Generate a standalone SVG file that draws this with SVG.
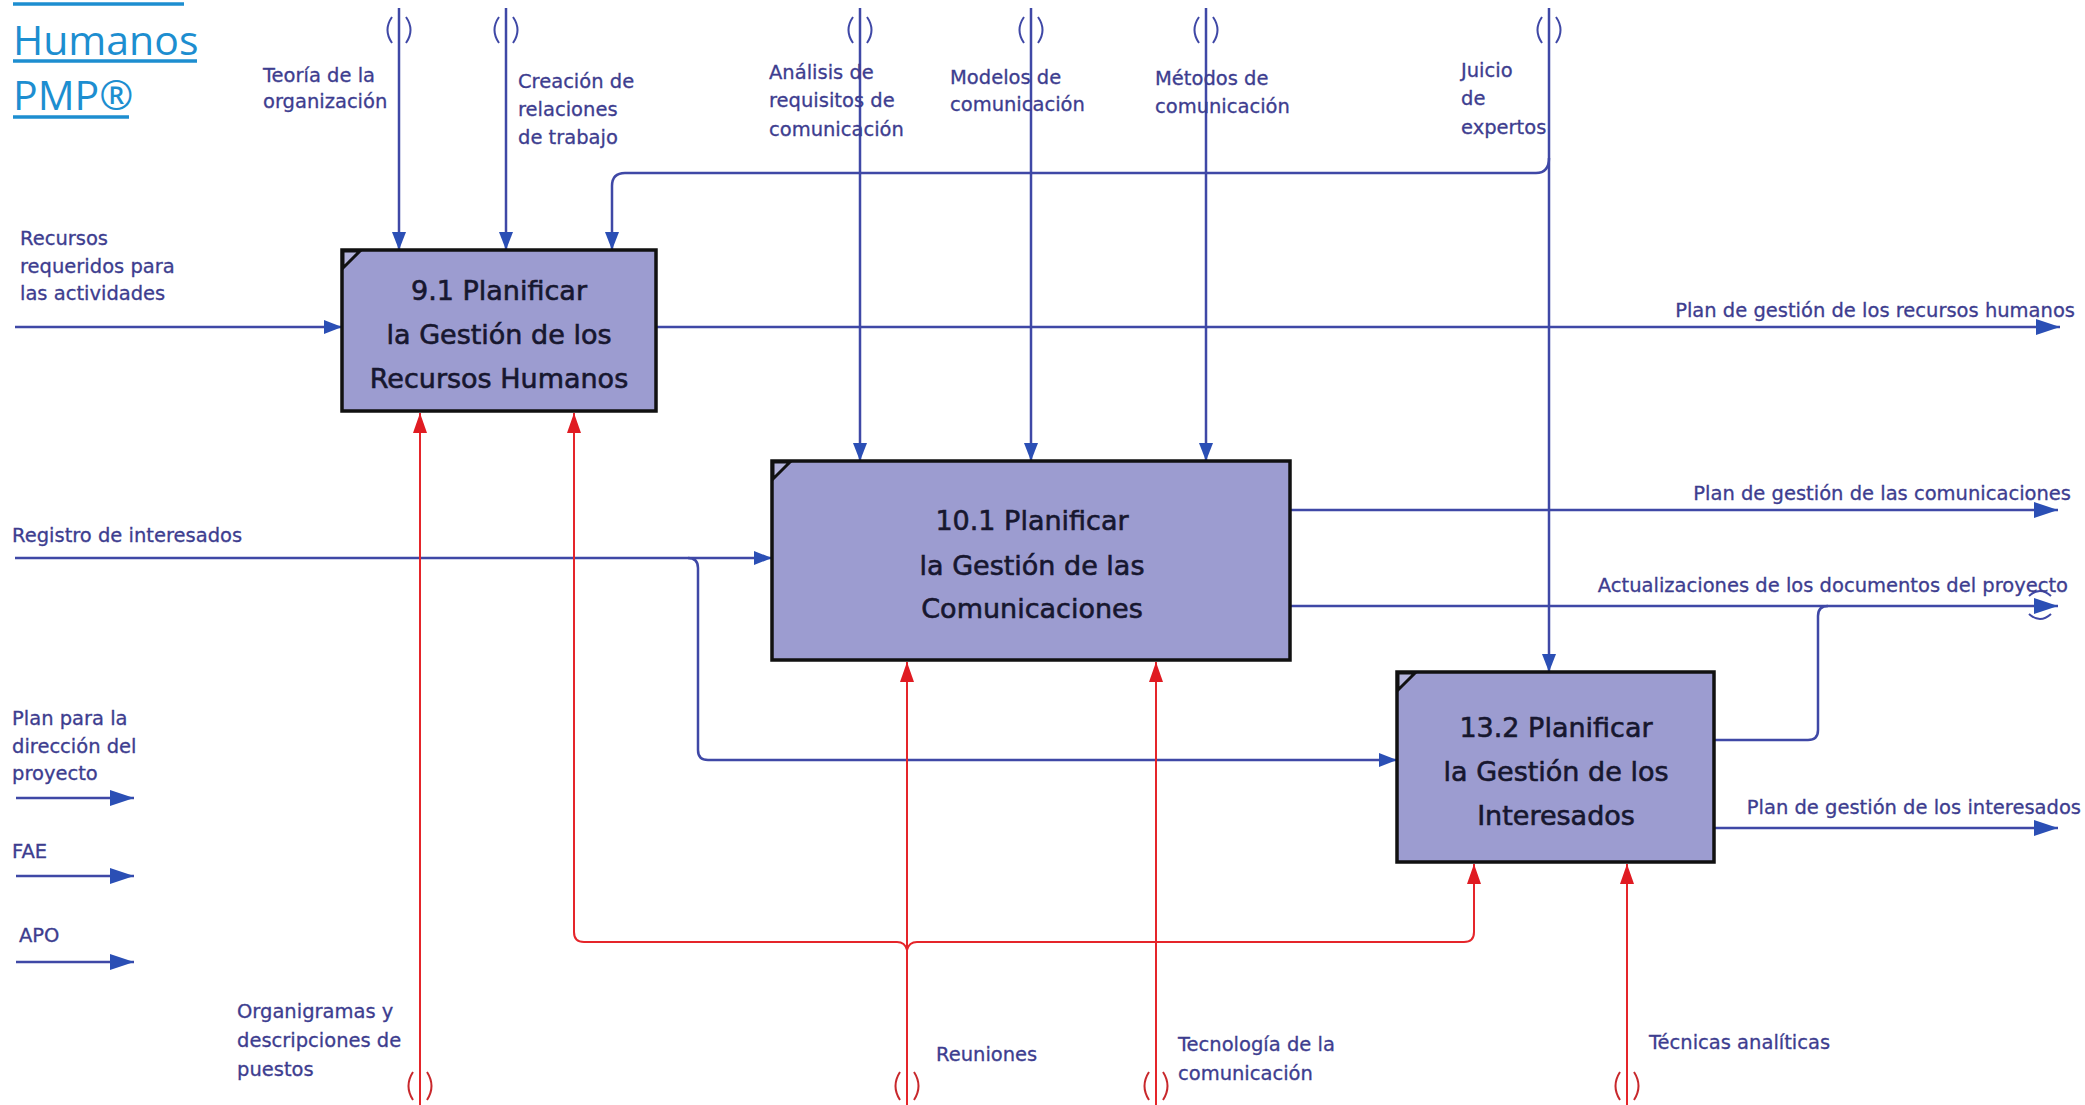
<svg xmlns="http://www.w3.org/2000/svg" width="2085" height="1105" viewBox="0 0 2085 1105">
  <style>
    .bg { fill: #ffffff; }
    .title { font-family: "Open Sans", "Noto Sans", sans-serif; font-size: 41px; fill: #1d8ed0; }
    .uline { stroke: #1d8ed0; stroke-width: 3.5; }
    .box { fill: #9c9cd0; stroke: #111111; stroke-width: 3.5; }
    .corner { stroke: #111111; stroke-width: 3; fill: #b4b4dc; }
    .btxt { font-family: "DejaVu Sans", "Liberation Sans", sans-serif; font-size: 27px; fill: #17172f; stroke: #17172f; stroke-width: 0.6; text-anchor: middle; }
    .lbl { font-family: "DejaVu Sans", "Liberation Sans", sans-serif; font-size: 19.5px; fill: #3d3d8f; stroke: #3d3d8f; stroke-width: 0.3; white-space: pre; }
    .end { text-anchor: end; }
    .blue { fill: none; stroke: #3f48a6; stroke-width: 2.5; }
    .red { fill: none; stroke: #e5252a; stroke-width: 2; }
    .tunB { fill: none; stroke: #3f48a6; stroke-width: 2; }
    .tunR { fill: none; stroke: #c8282c; stroke-width: 2; }
  </style>
  <defs>
    <marker id="arrB" markerUnits="userSpaceOnUse" markerWidth="20" markerHeight="16" refX="18" refY="7" orient="auto">
      <path d="M0,0 L18,7 L0,14 z" fill="#2b4fb5"/>
    </marker>
    <marker id="arrBL" markerUnits="userSpaceOnUse" markerWidth="26" markerHeight="18" refX="24" refY="8" orient="auto">
      <path d="M0,0 L24,8 L0,16 z" fill="#2b4fb5"/>
    </marker>
    <marker id="arrR" markerUnits="userSpaceOnUse" markerWidth="22" markerHeight="18" refX="20" refY="8" orient="auto">
      <path d="M0,1 L20,8 L0,15 z" fill="#e01b22"/>
    </marker>
  </defs>

  <rect class="bg" x="0" y="0" width="2085" height="1105"/>

  <!-- heading -->
  <g id="title">
    <line class="uline" x1="13" y1="4" x2="184" y2="4"/>
    <text class="title" x="13" y="55">Humanos</text>
    <line class="uline" x1="13" y1="61" x2="197" y2="61"/>
    <text class="title" x="13" y="110">PMP®</text>
    <line class="uline" x1="13" y1="117" x2="129" y2="117"/>
  </g>

  <!-- connectors: controls (top), inputs (left), outputs (right), mechanisms (bottom) -->
  <g id="connectors">
    <!-- controls -->
    <path class="blue" d="M399,8 V250" marker-end="url(#arrB)"/>
    <path class="blue" d="M506,8 V250" marker-end="url(#arrB)"/>
    <path class="blue" d="M860,8 V461" marker-end="url(#arrB)"/>
    <path class="blue" d="M1031,8 V461" marker-end="url(#arrB)"/>
    <path class="blue" d="M1206,8 V461" marker-end="url(#arrB)"/>
    <path class="blue" d="M1549,8 V672" marker-end="url(#arrB)"/>
    <path class="blue" d="M1549,158 Q1549,173 1536,173 H625 Q612,173 612,186 V250" marker-end="url(#arrB)"/>

    <!-- inputs -->
    <path class="blue" d="M15,327 H342" marker-end="url(#arrB)"/>
    <path class="blue" d="M15,558 H772" marker-end="url(#arrB)"/>
    <path class="blue" d="M688,558 Q698,558 698,568 V750 Q698,760 708,760 H1397" marker-end="url(#arrB)"/>

    <!-- outputs -->
    <path class="blue" d="M656,327 H2060" marker-end="url(#arrBL)"/>
    <path class="blue" d="M1290,510 H2058" marker-end="url(#arrBL)"/>
    <path class="blue" d="M1290,606 H2058" marker-end="url(#arrBL)"/>
    <path class="blue" d="M1714,740 H1808 Q1818,740 1818,730 V616 Q1818,606 1828,606"/>
    <path class="blue" d="M1714,828 H2058" marker-end="url(#arrBL)"/>

    <!-- legend arrows -->
    <path class="blue" d="M16,798 H134" marker-end="url(#arrBL)"/>
    <path class="blue" d="M16,876 H134" marker-end="url(#arrBL)"/>
    <path class="blue" d="M16,962 H134" marker-end="url(#arrBL)"/>

    <!-- mechanisms -->
    <path class="red" d="M420,1105 V413" marker-end="url(#arrR)"/>
    <path class="red" d="M907,1105 V662" marker-end="url(#arrR)"/>
    <path class="red" d="M907,950 Q905,942 897,942 H584 Q574,942 574,932 V413" marker-end="url(#arrR)"/>
    <path class="red" d="M907,950 Q909,942 917,942 H1464 Q1474,942 1474,932 V864" marker-end="url(#arrR)"/>
    <path class="red" d="M1156,1105 V662" marker-end="url(#arrR)"/>
    <path class="red" d="M1627,1105 V864" marker-end="url(#arrR)"/>

    <!-- tunnel marks -->
    <g class="tunB">
      <path d="M392,17 Q383,30 392,43 M406,17 Q415,30 406,43"/>
      <path d="M499,17 Q490,30 499,43 M513,17 Q522,30 513,43"/>
      <path d="M853,17 Q844,30 853,43 M867,17 Q876,30 867,43"/>
      <path d="M1024,17 Q1015,30 1024,43 M1038,17 Q1047,30 1038,43"/>
      <path d="M1199,17 Q1190,30 1199,43 M1213,17 Q1222,30 1213,43"/>
      <path d="M1542,17 Q1533,30 1542,43 M1556,17 Q1565,30 1556,43"/>
      <path d="M2029,596 Q2040,586 2051,596 M2029,614 Q2040,624 2051,614"/>
    </g>
    <g class="tunR">
      <path d="M413,1072 Q404,1086 413,1100 M427,1072 Q436,1086 427,1100"/>
      <path d="M900,1072 Q891,1086 900,1100 M914,1072 Q923,1086 914,1100"/>
      <path d="M1149,1072 Q1140,1086 1149,1100 M1163,1072 Q1172,1086 1163,1100"/>
      <path d="M1620,1072 Q1611,1086 1620,1100 M1634,1072 Q1643,1086 1634,1100"/>
    </g>
  </g>

  <!-- connector labels -->
  <g id="connector-labels" class="lbl">
    <text x="263" y="82">Teoría de la</text>
    <text x="263" y="108">organización</text>
    <text x="518" y="88">Creación de</text>
    <text x="518" y="116">relaciones</text>
    <text x="518" y="144">de trabajo</text>
    <text x="769" y="79">Análisis de</text>
    <text x="769" y="107">requisitos de</text>
    <text x="769" y="136">comunicación</text>
    <text x="950" y="84">Modelos de</text>
    <text x="950" y="111">comunicación</text>
    <text x="1155" y="85">Métodos de</text>
    <text x="1155" y="113">comunicación</text>
    <text x="1461" y="77">Juicio</text>
    <text x="1461" y="105">de</text>
    <text x="1461" y="134">expertos</text>

    <text x="20" y="245">Recursos</text>
    <text x="20" y="273">requeridos para</text>
    <text x="20" y="300">las actividades</text>
    <text x="12" y="542">Registro de interesados</text>

    <text class="end" x="2075" y="317">Plan de gestión de los recursos humanos</text>
    <text class="end" x="2071" y="500">Plan de gestión de las comunicaciones</text>
    <text class="end" x="2068" y="592">Actualizaciones de los documentos del proyecto</text>
    <text class="end" x="2081" y="814">Plan de gestión  de los interesados</text>

    <text x="12" y="725">Plan para la</text>
    <text x="12" y="753">dirección del</text>
    <text x="12" y="780">proyecto</text>
    <text x="12" y="858">FAE</text>
    <text x="19" y="942">APO</text>

    <text x="237" y="1018">Organigramas y</text>
    <text x="237" y="1047">descripciones de</text>
    <text x="237" y="1076">puestos</text>
    <text x="936" y="1061">Reuniones</text>
    <text x="1178" y="1051">Tecnología de la</text>
    <text x="1178" y="1080">comunicación</text>
    <text x="1649" y="1049">Técnicas analíticas</text>
  </g>

  <!-- process boxes -->
  <g id="node-9-1">
    <rect class="box" x="342" y="250" width="314" height="161"/>
    <path class="corner" d="M343,268 L343,251 L360,251 Z"/>
    <text class="btxt" x="499" y="300">9.1 Planificar</text>
    <text class="btxt" x="499" y="344">la Gestión de los</text>
    <text class="btxt" x="499" y="388">Recursos Humanos</text>
  </g>

  <g id="node-10-1">
    <rect class="box" x="772" y="461" width="518" height="199"/>
    <path class="corner" d="M773,479 L773,462 L790,462 Z"/>
    <text class="btxt" x="1032" y="530">10.1 Planificar</text>
    <text class="btxt" x="1032" y="575">la Gestión de las</text>
    <text class="btxt" x="1032" y="618">Comunicaciones</text>
  </g>

  <g id="node-13-2">
    <rect class="box" x="1397" y="672" width="317" height="190"/>
    <path class="corner" d="M1398,690 L1398,673 L1415,673 Z"/>
    <text class="btxt" x="1556" y="737">13.2 Planificar</text>
    <text class="btxt" x="1556" y="781">la Gestión de los</text>
    <text class="btxt" x="1556" y="825">Interesados</text>
  </g>
</svg>
